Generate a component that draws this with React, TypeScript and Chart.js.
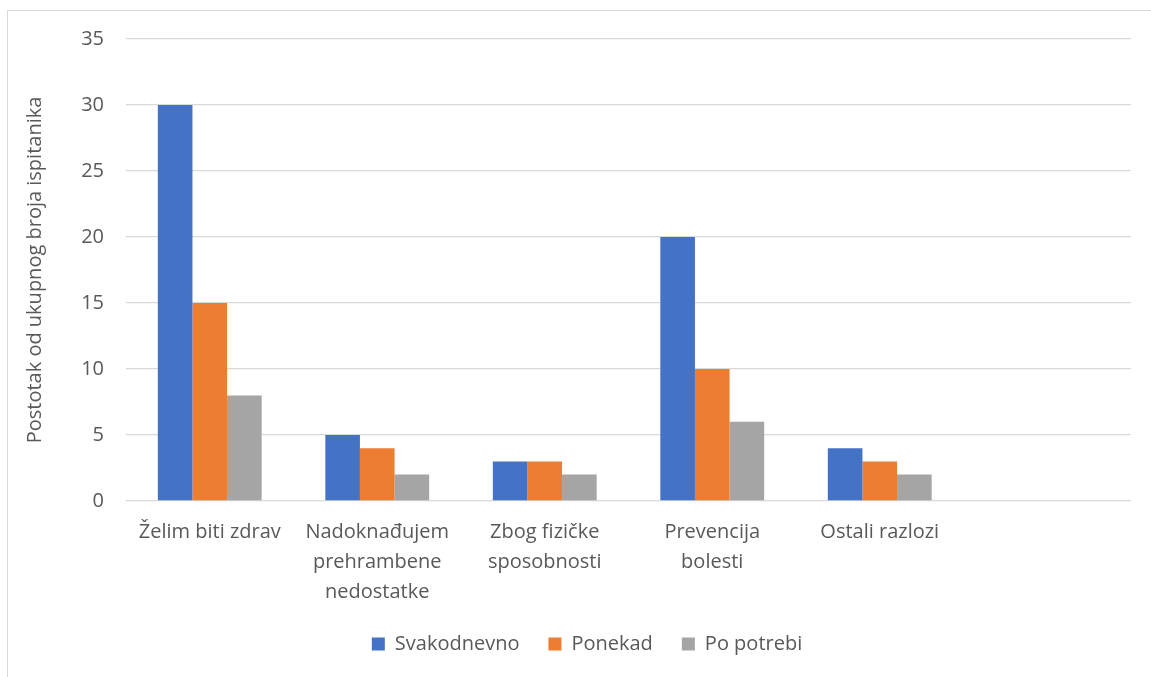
import React, { useEffect, useRef } from "react";
import { Chart, registerables } from "chart.js";

Chart.register(...registerables);

const categories: (string | string[])[] = [
  "Želim biti zdrav",
  ["Nadoknađujem", "prehrambene", "nedostatke"],
  ["Zbog fizičke", "sposobnosti"],
  ["Prevencija", "bolesti"],
  "Ostali razlozi",
  "",
];
const svakodnevno = [30, 5, 3, 20, 4, null];
const ponekad = [15, 4, 3, 10, 3, null];
const poPotrebi = [8, 2, 2, 6, 2, null];
const yTicks = [0, 5, 10, 15, 20, 25, 30, 35];
const yTitle = "Postotak od ukupnog broja ispitanika";

const FONT = "'Open Sans', sans-serif";
const TEXT = "#595959";
const FS = 20;

export default function App() {
  const ref = useRef<HTMLCanvasElement>(null);
  useEffect(() => {
    if (!ref.current) return;
    const chart = new Chart(ref.current, {
      type: "bar",
      data: {
        labels: categories,
        datasets: [
          { label: "Svakodnevno", data: svakodnevno, backgroundColor: "#4472C4" },
          { label: "Ponekad", data: ponekad, backgroundColor: "#ED7D31" },
          { label: "Po potrebi", data: poPotrebi, backgroundColor: "#A5A5A5" },
        ],
      },
      options: {
        animation: false,
        responsive: false,
        devicePixelRatio: 1,
        datasets: { bar: { categoryPercentage: 0.62, barPercentage: 1 } },
        layout: { padding: { left: 43, right: 20, top: 39, bottom: 13 } },
        plugins: {
          tooltip: { enabled: false },
          legend: {
            position: "bottom",
            labels: {
              color: TEXT,
              font: { family: FONT, size: FS },
              boxWidth: 13,
              boxHeight: 13,
              padding: 29,
            },
          },
        },
        scales: {
          x: {
            grid: { display: false },
            border: { display: false },
            ticks: {
              color: TEXT,
              font: { family: FONT, size: FS, lineHeight: 1.5 },
              maxRotation: 0,
              autoSkip: false,
              padding: 8,
            },
            afterFit: (s: any) => {
              s.height = 104;
            },
          },
          y: {
            min: 0,
            max: 35,
            afterBuildTicks: (s: any) => {
              s.ticks = yTicks.map((v) => ({ value: v }));
            },
            grid: { color: "#d9d9d9", lineWidth: 1.3, drawTicks: false },
            border: { display: false },
            ticks: {
              color: TEXT,
              font: { family: FONT, size: FS },
              padding: 22,
            },
            title: {
              display: true,
              text: yTitle,
              color: TEXT,
              font: { family: FONT, size: FS },
              padding: { top: -20, bottom: 0 },
            },
            afterFit: (s: any) => {
              s.width = 83;
            },
          },
        },
      },
    });
    return () => chart.destroy();
  }, []);

  return (
    <div
      style={{
        position: "absolute",
        left: 0,
        top: 0,
        width: 1151,
        height: 677,
        overflow: "hidden",
        background: "#fff",
      }}
    >
      <div
        style={{
          position: "absolute",
          left: 7,
          top: 10,
          width: 1200,
          height: 720,
          border: "1px solid #d9d9d9",
        }}
      />
      <canvas
        ref={ref}
        width={1151}
        height={677}
        style={{ position: "absolute", left: 0, top: 0 }}
      />
    </div>
  );
}
